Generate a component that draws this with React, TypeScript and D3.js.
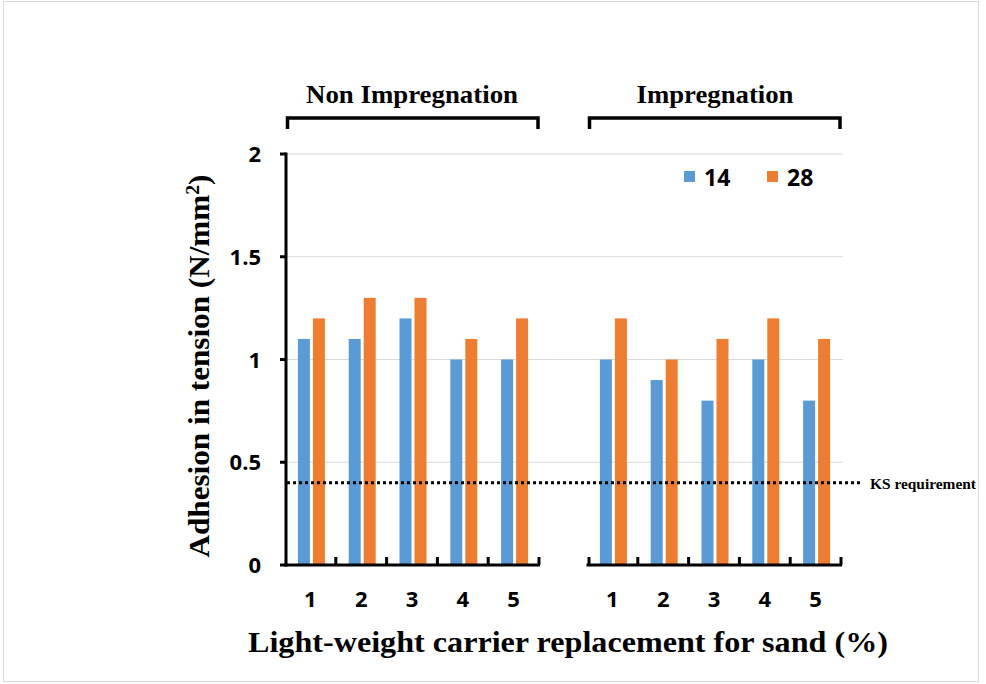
import React from "react";
import * as d3 from "d3";

const groups = ["Non Impregnation", "Impregnation"];
const categories = ["1", "2", "3", "4", "5"];
const seriesNames = ["14", "28"];
const nonImp14 = [1.1, 1.1, 1.2, 1.0, 1.0];
const nonImp28 = [1.2, 1.3, 1.3, 1.1, 1.2];
const imp14 = [1.0, 0.9, 0.8, 1.0, 0.8];
const imp28 = [1.2, 1.0, 1.1, 1.2, 1.1];
const yTicks = [0, 0.5, 1, 1.5, 2];
const yTickLabels = ["0", "0.5", "1", "1.5", "2"];
const ksRequirement = 0.4;
const colors = ["#5B9BD5", "#ED7D31"];

const W = 986;
const H = 684;

export default function App() {
  const groupValues = [
    [nonImp14, nonImp28],
    [imp14, imp28],
  ];
  const y = d3.scaleLinear().domain([0, 2]).range([565, 154]);
  const gx = d3
    .scaleBand<string>()
    .domain(groups)
    .range([286, 842])
    .paddingInner(48 / 302)
    .paddingOuter(0);
  const cx = d3
    .scaleBand<string>()
    .domain(categories)
    .range([0, gx.bandwidth()]);
  const sx = d3
    .scaleBand<string>()
    .domain(seriesNames)
    .range([cx.bandwidth() / 2 - 13.5, cx.bandwidth() / 2 + 13.5])
    .paddingInner(0.2);

  const sans = "'Open Sans', 'Liberation Sans', sans-serif";
  const serif = "'Liberation Serif', 'Times New Roman', serif";
  const groupLabelLen = [212, 157];

  return (
    <div style={{ position: "fixed", left: 0, top: 0 }}>
      <svg width={W} height={H} style={{ display: "block" }}>
        <rect x={0} y={0} width={W} height={H} fill="#fff" />
        <rect x={3.5} y={1.5} width={975} height={680} fill="none" stroke="#d9d9d9" strokeWidth={1} />

        {/* gridlines */}
        {yTicks.slice(1).map((t) => (
          <line key={t} x1={287} x2={843} y1={y(t)} y2={y(t)} stroke="#d9d9d9" strokeWidth={1} />
        ))}

        {/* bars */}
        {groups.map((g, gi) => (
          <g key={g} transform={`translate(${gx(g)},0)`}>
            {categories.map((c, ci) => (
              <g key={c} transform={`translate(${cx(c)},0)`}>
                {seriesNames.map((s, si) => {
                  const v = groupValues[gi][si][ci];
                  return (
                    <rect
                      key={s}
                      x={sx(s)}
                      width={sx.bandwidth()}
                      y={y(v)}
                      height={y(0) - y(v)}
                      fill={colors[si]}
                    />
                  );
                })}
              </g>
            ))}
          </g>
        ))}

        {/* KS requirement line */}
        <line
          x1={287}
          x2={860}
          y1={y(ksRequirement)}
          y2={y(ksRequirement)}
          stroke="#000"
          strokeWidth={3}
          strokeDasharray="3 3"
        />
        <text
          x={870}
          y={y(ksRequirement) + 6}
          fontFamily={serif}
          fontWeight="bold"
          fontSize={15}
          textLength={106}
          lengthAdjust="spacingAndGlyphs"
        >
          KS requirement
        </text>

        {/* y axis */}
        <line x1={286} x2={286} y1={y(2) - 1.5} y2={y(0) + 1.5} stroke="#000" strokeWidth={3} />
        {yTicks.map((t, i) => (
          <g key={t}>
            <line x1={280} x2={286} y1={y(t)} y2={y(t)} stroke="#000" strokeWidth={3} />
            <text
              x={261}
              y={y(t) + 8}
              textAnchor="end"
              fontFamily={sans}
              fontWeight="bold"
              fontSize={22}
            >
              {yTickLabels[i]}
            </text>
          </g>
        ))}

        {/* x axis segments */}
        {groups.map((g, gi) => {
          const x0 = gx(g) as number;
          return (
            <g key={g}>
              <line x1={x0 - 1.5} x2={x0 + gx.bandwidth()} y1={y(0)} y2={y(0)} stroke="#000" strokeWidth={3} />
              {categories.map((c) => {
                const tx = x0 + (cx(c) as number) + cx.bandwidth();
                return (
                  <line key={c} x1={tx - 1} x2={tx - 1} y1={y(0)} y2={y(0) - 8} stroke="#000" strokeWidth={3} />
                );
              })}
              {g === groups[1] && (
                <line x1={x0 + 1} x2={x0 + 1} y1={y(0)} y2={y(0) - 8} stroke="#000" strokeWidth={3} />
              )}
              {categories.map((c) => (
                <text
                  key={c}
                  x={x0 + (cx(c) as number) + cx.bandwidth() / 2 - 1}
                  y={607}
                  textAnchor="middle"
                  fontFamily={sans}
                  fontWeight="bold"
                  fontSize={22}
                >
                  {c}
                </text>
              ))}
              {/* bracket */}
              <path
                d={`M${x0 + 1.5},129 V118 H${x0 + gx.bandwidth() - 2} V129`}
                fill="none"
                stroke="#000"
                strokeWidth={3.5}
              />
              <text
                x={x0 + gx.bandwidth() / 2 - (gi === 0 ? 1 : 0)}
                y={103}
                textAnchor="middle"
                fontFamily={serif}
                fontWeight="bold"
                fontSize={26}
                textLength={groupLabelLen[gi]}
                lengthAdjust="spacingAndGlyphs"
              >
                {g}
              </text>
            </g>
          );
        })}

        {/* legend */}
        {seriesNames.map((s, i) => (
          <g key={s} transform={`translate(${684 + i * 83},171)`}>
            <rect x={0} y={0} width={11} height={11} fill={colors[i]} />
            <text x={20} y={15} fontFamily={sans} fontWeight="bold" fontSize={23}>
              {s}
            </text>
          </g>
        ))}

        {/* axis titles */}
        <text
          transform={`translate(209,366) rotate(-90)`}
          textAnchor="middle"
          fontFamily={serif}
          fontWeight="bold"
          fontSize={30}
          textLength={383}
          lengthAdjust="spacingAndGlyphs"
        >
          Adhesion in tension (N/mm<tspan baselineShift="super" fontSize={19}>2</tspan>)
        </text>
        <text
          x={568}
          y={652}
          textAnchor="middle"
          fontFamily={serif}
          fontWeight="bold"
          fontSize={30}
          textLength={640}
          lengthAdjust="spacingAndGlyphs"
        >
          Light-weight carrier replacement for sand (%)
        </text>
      </svg>
    </div>
  );
}
